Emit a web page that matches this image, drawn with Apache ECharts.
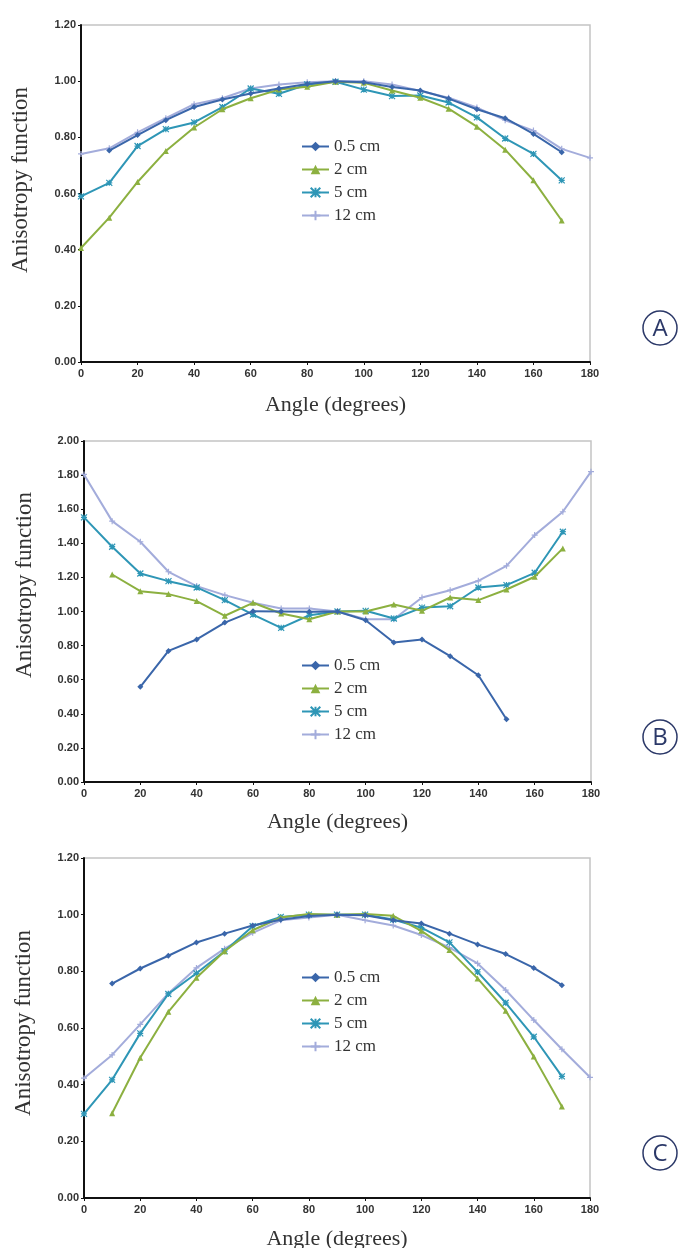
<!DOCTYPE html>
<html><head><meta charset="utf-8">
<script src="https://cdn.jsdelivr.net/npm/echarts@6/dist/echarts.min.js"></script>
<style>html,body{margin:0;padding:0;background:#fff}#c{width:682px;height:1248px}</style>
</head><body><div id="c"></div>
<script>
const angles = [0,10,20,30,40,50,60,70,80,90,100,110,120,130,140,150,160,170,180];
const seriesNames = ['0.5 cm','2 cm','5 cm','12 cm'];
const xTicks = [0,20,40,60,80,100,120,140,160,180];
const panelLetters = ['A','B','C'];
const xTitle = 'Angle (degrees)';
const yTitle = 'Anisotropy function';

// Panel A
const a_05 = [null,0.753,0.808,0.861,0.908,0.935,0.956,0.974,0.990,1.000,0.996,0.979,0.967,0.938,0.900,0.868,0.812,0.747,null];
const a_2  = [0.406,0.514,0.641,0.751,0.835,0.900,0.939,0.970,0.980,0.998,0.994,0.967,0.941,0.902,0.838,0.756,0.647,0.504,null];
const a_5  = [0.590,0.638,0.769,0.829,0.853,0.908,0.974,0.955,0.988,0.998,0.970,0.947,0.949,0.924,0.871,0.796,0.741,0.647,null];
const a_12 = [0.741,0.761,0.818,0.868,0.918,0.939,0.974,0.988,0.996,1.000,1.000,0.988,0.965,0.941,0.906,0.861,0.824,0.759,0.727];
// Panel B
const b_05 = [null,null,0.558,0.769,0.836,0.935,1.002,1.000,0.998,1.000,0.949,0.818,0.836,0.738,0.626,0.368,null,null,null];
const b_2  = [null,1.217,1.119,1.102,1.061,0.975,1.051,0.988,0.955,1.000,1.000,1.041,1.004,1.082,1.067,1.129,1.204,1.370,null];
const b_5  = [1.552,1.380,1.223,1.178,1.141,1.067,0.982,0.904,0.978,1.000,1.004,0.959,1.023,1.031,1.141,1.155,1.227,1.468,null];
const b_12 = [1.804,1.530,1.409,1.233,1.149,1.096,1.051,1.018,1.018,1.000,0.955,0.955,1.082,1.125,1.180,1.268,1.448,1.585,1.820];
// Panel C
const c_05 = [null,0.757,0.810,0.855,0.902,0.933,0.962,0.982,0.995,1.000,0.998,0.980,0.969,0.933,0.895,0.861,0.812,0.751,null];
const c_2  = [null,0.299,0.495,0.657,0.777,0.871,0.945,0.990,1.002,1.000,1.002,0.996,0.943,0.875,0.775,0.661,0.499,0.323,null];
const c_5  = [0.297,0.417,0.581,0.720,0.793,0.871,0.959,0.992,1.000,1.000,1.000,0.983,0.954,0.902,0.798,0.689,0.569,0.429,null];
const c_12 = [0.423,0.505,0.613,0.722,0.812,0.880,0.936,0.980,0.990,1.000,0.980,0.962,0.928,0.884,0.828,0.734,0.628,0.525,0.426];

const yMax = [1.2, 2.0, 1.2];
const panels = [[a_05,a_2,a_5,a_12],[b_05,b_2,b_5,b_12],[c_05,c_2,c_5,c_12]];

const colors = ['#3a66aa','#8cb040','#2e96b6','#a3acdb'];
const symbols = ['diamond','triangle','path://M0,0L10,10M10,0L0,10M5,0L5,10M0,5L10,5','path://M5,0L5,10M0,5L10,5'];
const symSizes = [6,6,6,6];

const grids = [
  {left:81, top:25, width:509, height:337},
  {left:84, top:441, width:507, height:341},
  {left:84, top:858, width:506, height:340}
];
const legendTops = [133, 652, 964];
const letterY = [328, 737, 1153];
const xTitleY = [405, 822, 1239];
const yTitlePos = [[21,180],[25,585],[24,1023]];

const chart = echarts.init(document.getElementById('c'));
const option = {
  backgroundColor:'#fff',
  animation:false,
  grid: grids.map(g=>Object.assign({show:true,borderColor:'#c4c4c4',borderWidth:1.5,backgroundColor:'transparent'},g)),
  xAxis: grids.map((g,i)=>({
    gridIndex:i, type:'value', min:0, max:180, interval:20,
    axisLine:{show:true,lineStyle:{color:'#111',width:2}},
    axisTick:{show:true,length:3,lineStyle:{color:'#111'}},
    axisLabel:{fontFamily:'Liberation Sans',fontWeight:'bold',fontSize:11,color:'#333',margin:6,
      formatter:v=>xTicks.includes(v)?String(v):''},
    splitLine:{show:false}
  })),
  yAxis: grids.map((g,i)=>({
    gridIndex:i, type:'value', min:0, max:yMax[i], interval:0.2,
    axisLine:{show:true,lineStyle:{color:'#111',width:2}},
    axisTick:{show:true,length:3,lineStyle:{color:'#111'}},
    axisLabel:{fontFamily:'Liberation Sans',fontWeight:'bold',fontSize:11,color:'#333',margin:5,
      formatter:v=>v.toFixed(2)},
    splitLine:{show:false}
  })),
  legend: grids.map((g,i)=>({
    orient:'vertical', left:296, top:legendTops[i],
    itemWidth:27, itemHeight:12, itemGap:6,
    data:seriesNames.map(n=>n+'\u200b'.repeat(i)),
    formatter:n=>n.replace(/\u200b/g,''),
    textStyle:{fontFamily:'Liberation Serif',fontSize:17,color:'#333'}
  })),
  series: [],
  graphic: []
};
panels.forEach((p,pi)=>{
  p.forEach((vals,si)=>{
    option.series.push({
      type:'line', name:seriesNames[si]+'\u200b'.repeat(pi),
      xAxisIndex:pi, yAxisIndex:pi,
      data: angles.map((a,k)=>[a,vals[k]]).filter(d=>d[1]!==null),
      color:colors[si],
      symbol:symbols[si], symbolSize:symSizes[si], showSymbol:true,
      lineStyle:{width:2,color:colors[si]},
      itemStyle:{color:colors[si],borderColor:colors[si],borderWidth: si>=2?1.2:0},
      z: 10-si
    });
  });
  option.graphic.push({type:'circle',shape:{cx:660,cy:letterY[pi],r:17},style:{fill:'#fff',stroke:'#2b3868',lineWidth:1.5}});
  option.graphic.push({type:'text',x:660,y:letterY[pi]+1,style:{text:panelLetters[pi],fill:'#2b3868',font:'24px "Open Sans"',align:'center',verticalAlign:'middle'}});
  option.graphic.push({type:'text',x:(grids[pi].left+grids[pi].left+grids[pi].width)/2,y:xTitleY[pi],style:{text:xTitle,fill:'#333',font:'22px "Liberation Serif"',align:'center',verticalAlign:'middle'}});
  option.graphic.push({type:'text',x:yTitlePos[pi][0],y:yTitlePos[pi][1],rotation:Math.PI/2,style:{text:yTitle,fill:'#333',font:'23px "Liberation Serif"',align:'center',verticalAlign:'middle'}});
});
chart.setOption(option);
</script></body></html>
